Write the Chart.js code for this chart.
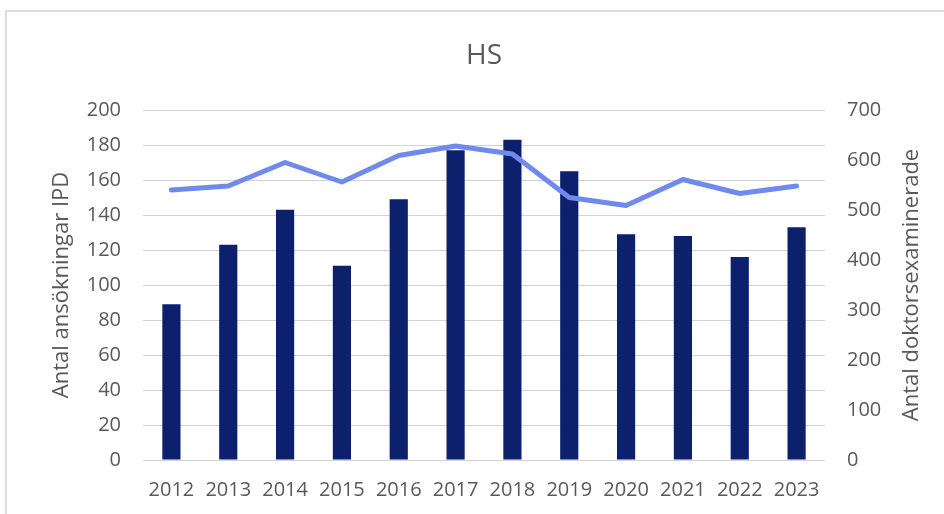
<!DOCTYPE html>
<html>
<head>
<meta charset="utf-8">
<script src="https://cdn.jsdelivr.net/npm/chart.js@4"></script>
<style>
  html, body { margin: 0; padding: 0; background: #ffffff; overflow: hidden; }
  #frame { position: absolute; left: 5px; top: 10px; width: 1000px; height: 600px; border: 2px solid #dcdcdc; box-sizing: border-box; }
  #wrap { position: absolute; left: 0; top: 0; width: 944px; height: 514px; }
</style>
</head>
<body>
<div id="frame"></div>
<div id="wrap"><canvas id="c" width="944" height="514"></canvas></div>
<script>
const categories = ['2012','2013','2014','2015','2016','2017','2018','2019','2020','2021','2022','2023'];
const ansokningar = [89, 123, 143, 111, 149, 177, 183, 165, 129, 128, 116, 133];
const examinerade = [540, 548, 595, 556, 609, 628, 612, 525, 509, 561, 533, 548];
const leftTicks = [0, 20, 40, 60, 80, 100, 120, 140, 160, 180, 200];
const rightTicks = [0, 100, 200, 300, 400, 500, 600, 700];
const chartTitle = 'HS';
const leftTitle = 'Antal ansökningar IPD';
const rightTitle = 'Antal doktorsexaminerade';

const textColor = '#595959';
const fontFamily = '"Open Sans", "DejaVu Sans", sans-serif';

const axisTitles = {
  id: 'axisTitles',
  afterDraw(chart) {
    const ctx = chart.ctx;
    const area = chart.chartArea;
    const mid = (area.top + area.bottom) / 2;
    ctx.save();
    ctx.fillStyle = textColor;
    ctx.font = '22px ' + fontFamily;
    ctx.textAlign = 'center';
    ctx.textBaseline = 'alphabetic';
    const items = [
      [leftTitle, chart.scales.y.left + 67.5],
      [rightTitle, chart.scales.y2.left + 92.5]
    ];
    items.forEach(([t, x]) => {
      ctx.save();
      ctx.translate(x, mid);
      ctx.rotate(-Math.PI / 2);
      ctx.fillText(t, 0, 0);
      ctx.restore();
    });
    ctx.restore();
  }
};

new Chart(document.getElementById('c'), {
  type: 'bar',
  data: {
    labels: categories,
    datasets: [
      {
        type: 'line',
        label: rightTitle,
        data: examinerade,
        yAxisID: 'y2',
        borderColor: '#6F89EC',
        backgroundColor: '#6F89EC',
        borderWidth: 5,
        pointRadius: 0,
        pointHoverRadius: 0,
        tension: 0,
        borderCapStyle: 'round',
        borderJoinStyle: 'round',
        order: 0
      },
      {
        type: 'bar',
        label: leftTitle,
        data: ansokningar,
        yAxisID: 'y',
        backgroundColor: '#0D206E',
        borderWidth: 0,
        categoryPercentage: 1.0,
        barPercentage: 0.32,
        order: 1
      }
    ]
  },
  options: {
    responsive: false,
    animation: false,
    devicePixelRatio: 1,
    layout: { padding: 0 },
    plugins: {
      legend: { display: false },
      tooltip: { enabled: false },
      title: {
        display: true,
        text: chartTitle,
        fullSize: false,
        color: textColor,
        font: { family: fontFamily, size: 28, weight: 'normal', lineHeight: 1.2 },
        padding: { top: 39.2, bottom: 37.2 }
      }
    },
    scales: {
      x: {
        grid: { display: false },
        border: { display: false },
        ticks: {
          color: textColor,
          font: { family: fontFamily, size: 20 },
          padding: 10,
          maxRotation: 0,
          autoSkip: false
        },
        afterFit(scale) { scale.height = 54; }
      },
      y: {
        position: 'left',
        min: leftTicks[0],
        max: leftTicks[leftTicks.length - 1],
        grid: { color: '#d2d2d2', lineWidth: 1, drawTicks: false },
        border: { display: false },
        ticks: {
          stepSize: leftTicks[1] - leftTicks[0],
          color: textColor,
          font: { family: fontFamily, size: 20 },
          padding: 22
        },
        afterFit(scale) { scale.width = 143; }
      },
      y2: {
        position: 'right',
        min: rightTicks[0],
        max: rightTicks[rightTicks.length - 1],
        grid: { display: false, drawTicks: false },
        border: { display: false },
        ticks: {
          stepSize: rightTicks[1] - rightTicks[0],
          color: textColor,
          font: { family: fontFamily, size: 20 },
          padding: 22
        },
        afterFit(scale) { scale.width = 119; }
      }
    }
  },
  plugins: [axisTitles]
});
</script>
</body>
</html>
